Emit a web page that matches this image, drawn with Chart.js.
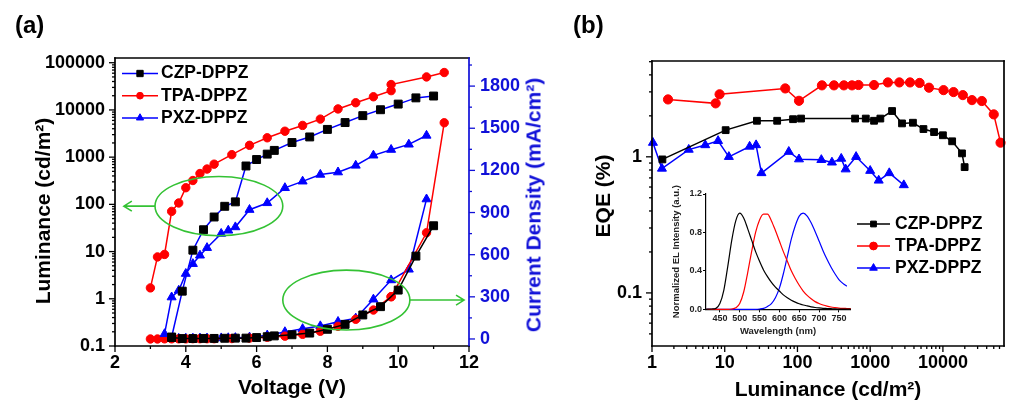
<!DOCTYPE html>
<html>
<head>
<meta charset="utf-8">
<script src="https://cdn.jsdelivr.net/npm/chart.js@4.4.1/dist/chart.umd.min.js"></script>
<style>
html,body{margin:0;padding:0;background:#fff;}
#wrap{position:relative;width:1025px;height:409px;overflow:hidden;font-family:"Liberation Sans",Arial,Helvetica,sans-serif;background:#fff;}
canvas{position:absolute;}
.t{position:absolute;font-weight:bold;white-space:nowrap;line-height:1;color:#000;}
.rt{position:absolute;font-weight:bold;white-space:nowrap;line-height:1;transform:translate(-50%,-50%) rotate(-90deg);color:#000;}
</style>
</head>
<body>
<div id="wrap">
<canvas id="ca" style="left:0px;top:0px" width="560" height="409"></canvas>
<canvas id="cb" style="left:560px;top:0px" width="465" height="409"></canvas>
<canvas id="cc" style="left:660px;top:180px" width="200" height="165"></canvas>
<div class="t" style="left:15px;top:13px;font-size:24px">(a)</div>
<div class="t" style="left:573px;top:13px;font-size:24px">(b)</div>
<div class="rt" style="left:42px;top:211px;font-size:21px">Luminance (cd/m²)</div>
<div class="rt" style="left:533px;top:205px;font-size:21px;color:#1010d8">Current Density (mA/cm²)</div>
<div class="rt" style="left:602px;top:196px;font-size:21px">EQE (%)</div>
</div>
<script>
// ---------------- Panel (a): voltage / luminance / current density ----------------
const czpV   = [3.6, 3.9, 4.2, 4.5, 4.8, 5.1, 5.4, 5.7, 6.0, 6.3, 6.5, 7.0, 7.5, 8.0, 8.5, 9.0, 9.5, 10.0, 10.5, 11.0];
const czpLum = [0.155, 1.45, 10.7, 29, 54, 91, 113, 650, 890, 1160, 1390, 2040, 2680, 3870, 5400, 7570, 10100, 13300, 18000, 19700];
const czpJ   = [10, 3, 3, 4, 4, 5, 6, 6, 10, 16, 22, 30, 42, 69, 104, 171, 230, 348, 590, 806];

const tpaV   = [3.0, 3.2, 3.4, 3.6, 3.8, 4.0, 4.2, 4.4, 4.6, 4.8, 5.3, 5.8, 6.3, 6.8, 7.3, 7.8, 8.3, 8.8, 9.3, 9.8, 9.8, 10.8, 11.3];
const tpaLum = [1.7, 7.7, 8.7, 71, 107, 225, 320, 450, 560, 710, 1130, 1780, 2570, 3540, 4700, 6400, 10500, 14200, 19000, 25600, 34500, 50000, 62000];
const tpaJ   = [0, 0, 1, 1, 1, 1, 2, 2, 2, 2, 3, 6, 12, 20, 33, 55, 90, 140, 206, 301, 301, 756, 1539];

const pxzV   = [3.4, 3.6, 3.8, 4.0, 4.2, 4.4, 4.6, 5.0, 5.2, 5.4, 5.8, 6.3, 6.8, 7.3, 7.8, 8.3, 8.8, 9.3, 9.8, 10.3, 10.8];
const pxzLum = [0.18, 1.08, 1.5, 3.4, 5.5, 8.3, 12, 24, 28, 33, 77, 107, 223, 307, 427, 480, 665, 1090, 1440, 1860, 2870];
const pxzJ   = [4, 3, 3, 4, 4, 5, 5, 6, 7, 8, 12, 26, 50, 72, 92, 123, 147, 282, 419, 495, 995];

// ---------------- Panel (b): EQE vs luminance ----------------
const czpLumB = [1.39, 10.3, 27.7, 52.6, 87, 112, 620, 870, 1130, 1380, 2000, 2740, 3870, 5400, 7560, 10000, 13400, 18300, 19900];
const czpEqe  = [0.957, 1.57, 1.84, 1.84, 1.89, 1.91, 1.91, 1.91, 1.84, 1.91, 2.17, 1.76, 1.78, 1.60, 1.52, 1.44, 1.30, 1.06, 0.84];
const tpaLumB = [1.66, 7.5, 8.5, 68, 105, 217, 318, 435, 562, 690, 1130, 1750, 2520, 3530, 4780, 6440, 10200, 14000, 18800, 25100, 34300, 50000, 62000];
const tpaEqe  = [2.64, 2.47, 2.88, 3.18, 2.58, 3.35, 3.35, 3.35, 3.35, 3.37, 3.37, 3.52, 3.52, 3.52, 3.49, 3.22, 3.09, 2.99, 2.84, 2.61, 2.57, 2.05, 1.27];
const pxzLumB = [1.03, 1.37, 3.2, 5.4, 8.1, 11.4, 22, 27, 32, 76, 105, 213, 298, 400, 460, 640, 1000, 1310, 1830, 2900];
const pxzEqe  = [1.27, 0.82, 1.13, 1.22, 1.31, 1.0, 1.19, 1.22, 0.76, 1.09, 0.96, 0.95, 0.91, 0.97, 0.81, 1.0, 0.79, 0.67, 0.76, 0.62];

// ---------------- Inset: normalized EL spectra ----------------
const wavelength = [415, 430, 440, 450, 460, 470, 480, 490, 500, 510, 520, 530, 540, 550, 560, 570, 580, 590, 600, 610, 620, 630, 640, 650, 660, 670, 680, 690, 700, 710, 720, 730, 740, 750, 760, 770, 780];
const czpEL = [0, 0.003, 0.01, 0.06, 0.2, 0.45, 0.72, 0.92, 1.0, 0.95, 0.84, 0.72, 0.6, 0.5, 0.41, 0.34, 0.28, 0.23, 0.19, 0.15, 0.12, 0.095, 0.075, 0.058, 0.045, 0.035, 0.026, 0.019, 0.014, 0.01, 0.008, 0.006, 0.004, 0.003, 0.002, 0.002, 0.001];
const tpaEL = [0, 0, 0, 0, 0, 0, 0.003, 0.015, 0.06, 0.18, 0.38, 0.6, 0.8, 0.93, 0.99, 0.99, 0.92, 0.82, 0.71, 0.6, 0.5, 0.4, 0.32, 0.25, 0.19, 0.145, 0.11, 0.08, 0.06, 0.045, 0.033, 0.024, 0.018, 0.013, 0.01, 0.008, 0.006];
const pxzEL = [0, 0, 0, 0, 0, 0, 0, 0, 0, 0, 0, 0, 0, 0.003, 0.01, 0.03, 0.06, 0.12, 0.22, 0.37, 0.55, 0.73, 0.87, 0.97, 1.0, 0.97, 0.9, 0.81, 0.71, 0.61, 0.52, 0.44, 0.37, 0.31, 0.27, 0.24, null];

// ---------------- Names and tick labels ----------------
const seriesNames = ['CZP-DPPZ', 'TPA-DPPZ', 'PXZ-DPPZ'];
const voltTicks = [2, 4, 6, 8, 10, 12];
const lumTicksA = [0.1, 1, 10, 100, 1000, 10000, 100000];
const jTicks    = [0, 300, 600, 900, 1200, 1500, 1800];
const lumTicksB = [1, 10, 100, 1000, 10000];
const eqeTicks  = [0.1, 1];
const wlTicks   = [450, 500, 550, 600, 650, 700, 750];
const elTicks   = [0, 0.4, 0.8, 1.2];

// ---------------- helpers ----------------
const FONT = '"Liberation Sans", Arial, Helvetica, sans-serif';
Chart.defaults.font.family = FONT;
const BLUE = '#0000ff', RED = '#ff0000', BLACK = '#000000', AXBLUE = '#1010d8', GREEN = '#34c234';

function pts(xs, ys) { return xs.map((x, i) => ({x: x, y: ys[i]})).filter(p => p.y !== null); }
function logMinors(lo, hi) {
  const out = [];
  for (let e = Math.floor(Math.log10(lo)) - 1; e <= Math.ceil(Math.log10(hi)); e++) {
    for (let m = 2; m <= 9; m++) { const v = m * Math.pow(10, e); if (v > lo * 1.0001 && v < hi * 0.9999) out.push(v); }
  }
  return out;
}
function linMinors(lo, hi, step) { const out = []; for (let v = lo; v <= hi + 1e-9; v += step) out.push(v); return out; }
function setTicks(list) { return function (s) { s.ticks = list.map(v => ({value: v})); }; }

function drawMarker(c, style, x, y, r) {
  c.beginPath();
  if (style === 'rect') { const s = r * Math.SQRT1_2; c.rect(x - s, y - s, 2 * s, 2 * s); }
  else if (style === 'triangle') {
    let a = 0; c.moveTo(x + Math.sin(a) * r, y - Math.cos(a) * r);
    a += 2 * Math.PI / 3; c.lineTo(x + Math.sin(a) * r, y - Math.cos(a) * r);
    a += 2 * Math.PI / 3; c.lineTo(x + Math.sin(a) * r, y - Math.cos(a) * r);
    c.closePath();
  } else { c.arc(x, y, r, 0, Math.PI * 2); }
}

const framePlugin = {
  id: 'frame',
  afterDatasetsDraw(chart, args, o) {
    if (!o || !o.sides) return;
    const a = chart.chartArea, c = chart.ctx;
    c.save(); c.lineWidth = o.width || 1.6; c.lineCap = 'square';
    const seg = (col, x1, y1, x2, y2) => { if (!col) return; c.strokeStyle = col; c.beginPath(); c.moveTo(x1, y1); c.lineTo(x2, y2); c.stroke(); };
    seg(o.sides.top, a.left, a.top, a.right, a.top);
    seg(o.sides.bottom, a.left, a.bottom, a.right, a.bottom);
    seg(o.sides.left, a.left, a.top, a.left, a.bottom);
    seg(o.sides.right, a.right, a.top, a.right, a.bottom);
    c.restore();
  }
};

const tickPlugin = {
  id: 'axisTicks',
  afterDatasetsDraw(chart, args, o) {
    if (!o || !o.axes) return;
    const a = chart.chartArea, c = chart.ctx;
    c.save(); c.lineWidth = 1.3;
    o.axes.forEach(ax => {
      const s = chart.scales[ax.id];
      c.strokeStyle = ax.color;
      const draw = (vals, len) => vals.forEach(v => {
        const p = s.getPixelForValue(v);
        c.beginPath();
        if (ax.side === 'left') { c.moveTo(a.left, p); c.lineTo(a.left - len * ax.dir, p); }
        else if (ax.side === 'right') { c.moveTo(a.right, p); c.lineTo(a.right + len * ax.dir, p); }
        else { c.moveTo(p, a.bottom); c.lineTo(p, a.bottom + len * ax.dir); }
        c.stroke();
      });
      draw(ax.major, ax.len); draw(ax.minor, ax.mlen);
    });
    c.restore();
  }
};

const legendPlugin = {
  id: 'boxLegend',
  afterDraw(chart, args, o) {
    if (!o || !o.items) return;
    const c = chart.ctx;
    c.save();
    c.font = 'bold ' + o.size + 'px ' + FONT;
    c.textBaseline = 'middle'; c.textAlign = 'left';
    o.items.forEach((idx, i) => {
      const ds = chart.data.datasets[idx];
      const y = o.y + i * o.dy;
      c.strokeStyle = ds.borderColor; c.lineWidth = ds.borderWidth;
      c.beginPath(); c.moveTo(o.x1, y); c.lineTo(o.x2, y); c.stroke();
      c.fillStyle = ds.pointBackgroundColor; c.strokeStyle = ds.pointBorderColor; c.lineWidth = 1;
      drawMarker(c, ds.pointStyle, (o.x1 + o.x2) / 2, y, ds.pointRadius * o.scale);
      c.fill(); c.stroke();
      c.fillStyle = '#000';
      c.fillText(ds.label, o.tx, y);
    });
    c.restore();
  }
};

const calloutPlugin = {
  id: 'callouts',
  afterDatasetsDraw(chart, args, o) {
    if (!o || !o.ellipses) return;
    const c = chart.ctx, xs = chart.scales.x;
    c.save(); c.strokeStyle = o.color; c.lineWidth = o.width;
    o.ellipses.forEach(e => {
      const ys = chart.scales[e.axis];
      const x1 = xs.getPixelForValue(e.x0), x2 = xs.getPixelForValue(e.x1);
      const y1 = ys.getPixelForValue(e.y0), y2 = ys.getPixelForValue(e.y1);
      c.beginPath();
      c.ellipse((x1 + x2) / 2, (y1 + y2) / 2, Math.abs(x2 - x1) / 2, Math.abs(y2 - y1) / 2, 0, 0, Math.PI * 2);
      c.stroke();
      const ay = ys.getPixelForValue(e.ay), a0 = xs.getPixelForValue(e.ax0), a1 = xs.getPixelForValue(e.ax1);
      const d = Math.sign(a1 - a0);
      c.beginPath(); c.moveTo(a0, ay); c.lineTo(a1, ay);
      c.moveTo(a1 - d * 8, ay - 5); c.lineTo(a1, ay); c.lineTo(a1 - d * 8, ay + 5);
      c.stroke();
    });
    c.restore();
  }
};

function ds(label, xs, ys, axis, line, style, fill, r) {
  return {label: label, data: pts(xs, ys), yAxisID: axis, showLine: true, borderColor: line, borderWidth: 1.5,
          pointStyle: style, pointRadius: r, pointBackgroundColor: fill, pointBorderColor: fill, pointBorderWidth: 1,
          clip: false, tension: 0};
}
const tickFont = {size: 18, weight: 'bold'};
const common = {responsive: false, animation: false, events: [], maintainAspectRatio: false};

// ---------------- Chart (a) ----------------
new Chart(document.getElementById('ca'), {
  type: 'scatter',
  data: {datasets: [
    ds(seriesNames[0], czpV, czpLum, 'y', BLUE, 'rect', BLACK, 5.6),
    ds(seriesNames[1], tpaV, tpaLum, 'y', RED, 'circle', RED, 4.2),
    ds(seriesNames[2], pxzV, pxzLum, 'y', BLUE, 'triangle', BLUE, 5.2),
    ds(seriesNames[0], czpV, czpJ, 'y1', BLACK, 'rect', BLACK, 5.6),
    ds(seriesNames[1], tpaV, tpaJ, 'y1', RED, 'circle', RED, 4.2),
    ds(seriesNames[2], pxzV, pxzJ, 'y1', BLUE, 'triangle', BLUE, 5.2)
  ]},
  options: Object.assign({}, common, {
    layout: {padding: {top: 58, left: 0, right: 0, bottom: 0}},
    plugins: {
      legend: {display: false}, tooltip: {enabled: false},
      frame: {sides: {top: BLACK, bottom: BLACK, left: BLACK, right: AXBLUE}, width: 1.7},
      axisTicks: {axes: [
        {id: 'y', side: 'left', dir: 1, color: BLACK, len: 6, mlen: 3, major: lumTicksA, minor: logMinors(0.1, 125000)},
        {id: 'x', side: 'bottom', dir: 1, color: BLACK, len: 6, mlen: 3, major: voltTicks, minor: [3, 5, 7, 9, 11]},
        {id: 'y1', side: 'right', dir: 1, color: AXBLUE, len: 6, mlen: 3, major: jTicks, minor: linMinors(150, 1950, 300)}
      ]},
      boxLegend: {items: [0, 1, 2], x1: 122, x2: 158, tx: 161, y: 73.5, dy: 22.2, size: 17.5, scale: 0.8},
      callouts: {color: GREEN, width: 1.6, ellipses: [
        {axis: 'y', x0: 3.13, x1: 6.74, y0: 390, y1: 21.6, ay: 91.6, ax0: 3.13, ax1: 2.25},
        {axis: 'y1', x0: 6.74, x1: 10.33, y0: 490, y1: 64, ay: 277, ax0: 10.33, ax1: 11.86}
      ]}
    },
    scales: {
      x: {type: 'linear', min: 2, max: 12, afterBuildTicks: setTicks(voltTicks), afterFit: s => { s.height = 63; },
          grid: {display: false, drawTicks: false}, border: {display: false},
          ticks: {font: tickFont, color: BLACK, padding: 6, maxRotation: 0, autoSkip: false, callback: v => String(v)},
          title: {display: true, text: 'Voltage (V)', font: {size: 21, weight: 'bold'}, color: BLACK, padding: {top: 0, bottom: 8}}},
      y: {type: 'logarithmic', position: 'left', min: 0.1, max: Math.pow(10, 5.1), afterBuildTicks: setTicks(lumTicksA),
          afterFit: s => { s.width = 115; }, grid: {display: false, drawTicks: false}, border: {display: false},
          ticks: {font: tickFont, color: BLACK, padding: 10, autoSkip: false, callback: v => String(v)}},
      y1: {type: 'linear', position: 'right', min: -50, max: 2000, afterBuildTicks: setTicks(jTicks),
          afterFit: s => { s.width = 91; }, grid: {display: false, drawTicks: false}, border: {display: false},
          ticks: {font: tickFont, color: AXBLUE, padding: 11, autoSkip: false, callback: v => String(v)}}
    }
  }),
  plugins: [framePlugin, tickPlugin, legendPlugin, calloutPlugin]
});

// ---------------- Chart (b) ----------------
new Chart(document.getElementById('cb'), {
  type: 'scatter',
  data: {datasets: [
    ds(seriesNames[0], czpLumB, czpEqe, 'y', BLACK, 'rect', BLACK, 4.8),
    ds(seriesNames[1], tpaLumB, tpaEqe, 'y', RED, 'circle', RED, 4.6),
    ds(seriesNames[2], pxzLumB, pxzEqe, 'y', BLUE, 'triangle', BLUE, 5.2)
  ]},
  options: Object.assign({}, common, {
    layout: {padding: {top: 61, left: 0, right: 21, bottom: 0}},
    plugins: {
      legend: {display: false}, tooltip: {enabled: false},
      frame: {sides: {top: BLACK, bottom: BLACK, left: BLACK, right: BLACK}, width: 1.7},
      axisTicks: {axes: [
        {id: 'y', side: 'left', dir: 1, color: BLACK, len: 6, mlen: 3, major: eqeTicks, minor: logMinors(0.0407, 5.06)},
        {id: 'x', side: 'bottom', dir: 1, color: BLACK, len: 6, mlen: 3, major: lumTicksB, minor: logMinors(1, 69000)}
      ]},
      boxLegend: {items: [0, 1, 2], x1: 297, x2: 330, tx: 335, y: 224, dy: 22, size: 17.5, scale: 0.85}
    },
    scales: {
      x: {type: 'logarithmic', min: 1, max: Math.pow(10, 4.84), afterBuildTicks: setTicks(lumTicksB), afterFit: s => { s.height = 63; },
          grid: {display: false, drawTicks: false}, border: {display: false},
          ticks: {font: tickFont, color: BLACK, padding: 6, maxRotation: 0, autoSkip: false, callback: v => String(v)},
          title: {display: true, text: 'Luminance (cd/m²)', font: {size: 21, weight: 'bold'}, color: BLACK, padding: {top: 0, bottom: 6}}},
      y: {type: 'logarithmic', position: 'left', min: Math.pow(10, -1.39), max: Math.pow(10, 0.704), afterBuildTicks: setTicks(eqeTicks),
          afterFit: s => { s.width = 92; }, grid: {display: false, drawTicks: false}, border: {display: false},
          ticks: {font: tickFont, color: BLACK, padding: 10, autoSkip: false, callback: v => String(v)}}
    }
  }),
  plugins: [framePlugin, tickPlugin, legendPlugin]
});

// ---------------- Inset chart ----------------
function elds(xs, ys, col) {
  return {data: pts(xs, ys), showLine: true, borderColor: col, borderWidth: 1.2, pointRadius: 0, cubicInterpolationMode: 'monotone', clip: false};
}
const insetTick = {size: 9, weight: 'bold'};
new Chart(document.getElementById('cc'), {
  type: 'scatter',
  data: {datasets: [elds(wavelength, czpEL, BLACK), elds(wavelength, tpaEL, RED), elds(wavelength, pxzEL, BLUE)]},
  options: Object.assign({}, common, {
    layout: {padding: {top: 14, left: 0, right: 10, bottom: 0}},
    plugins: {legend: {display: false}, tooltip: {enabled: false}},
    scales: {
      x: {type: 'linear', min: 415, max: 778, afterBuildTicks: setTicks(wlTicks), afterFit: s => { s.height = 35.7; },
          grid: {display: true, drawOnChartArea: false, drawTicks: true, tickLength: 3, color: BLACK, lineWidth: 1},
          border: {display: true, color: BLACK, width: 1.2},
          ticks: {font: insetTick, color: '#222', padding: 1, maxRotation: 0, autoSkip: false, callback: v => String(v)},
          title: {display: true, text: 'Wavelength (nm)', font: {size: 9.5, weight: 'bold'}, color: '#222', padding: {top: 0, bottom: 8}}},
      y: {type: 'linear', min: 0, max: 1.2, afterBuildTicks: setTicks(elTicks), afterFit: s => { s.width = 46; },
          grid: {display: true, drawOnChartArea: false, drawTicks: true, tickLength: 3, color: BLACK, lineWidth: 1},
          border: {display: true, color: BLACK, width: 1.2},
          ticks: {font: insetTick, color: '#222', padding: 1, autoSkip: false, callback: v => v.toFixed(1)},
          title: {display: true, text: 'Normalized EL Intensity (a.u.)', font: {size: 9.5, weight: 'bold'}, color: '#222', padding: {top: 11, bottom: 0}}}
    }
  })
});
</script>
</body>
</html>
